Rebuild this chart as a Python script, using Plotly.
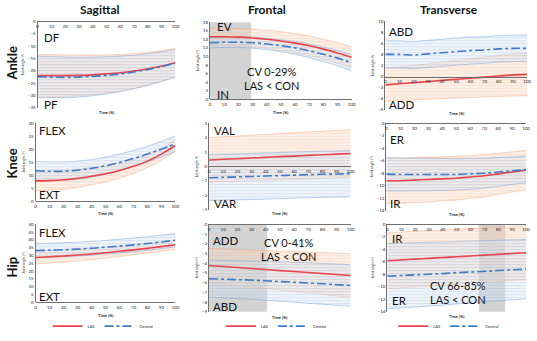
import plotly.graph_objects as go

W, H = 537, 341

TIME = [0, 10, 20, 30, 40, 50, 60, 70, 80, 90, 100]
X_TICKS = list(range(0, 101, 10))

# ---- Ankle sagittal
ANK_SAG_LAS_MEAN = [-22.0, -22.0, -22.0, -21.9, -21.7, -21.3, -20.8, -20.1, -19.2, -18.1, -16.8]
ANK_SAG_LAS_SD = [8.6, 8.5, 8.4, 8.2, 8.0, 7.7, 7.4, 7.0, 6.6, 6.2, 5.8]
ANK_SAG_CON_MEAN = [-22.5, -22.6, -22.7, -22.6, -22.3, -21.9, -21.3, -20.5, -19.5, -18.3, -17.0]
ANK_SAG_CON_SD = [8.4, 8.3, 8.2, 8.0, 7.8, 7.5, 7.2, 6.8, 6.4, 6.0, 5.6]
# ---- Ankle frontal
ANK_FRO_LAS_MEAN = [14.6, 14.6, 14.5, 14.3, 14.0, 13.6, 13.1, 12.5, 11.7, 10.8, 9.8]
ANK_FRO_LAS_SD = [2.0, 2.0, 2.0, 2.1, 2.1, 2.2, 2.2, 2.3, 2.3, 2.4, 2.4]
ANK_FRO_CON_MEAN = [13.2, 13.3, 13.3, 13.2, 12.9, 12.5, 12.0, 11.3, 10.5, 9.6, 8.5]
ANK_FRO_CON_SD = [1.2, 1.2, 1.2, 1.3, 1.3, 1.4, 1.5, 1.6, 1.7, 1.8, 1.9]
# ---- Ankle transverse
ANK_TRA_LAS_MEAN = [-1.5, -1.3, -1.1, -0.9, -0.7, -0.5, -0.3, -0.1, 0.1, 0.3, 0.4]
ANK_TRA_LAS_SD = [3.0, 3.0, 3.1, 3.2, 3.3, 3.4, 3.5, 3.6, 3.7, 3.8, 3.9]
ANK_TRA_CON_MEAN = [4.0, 4.0, 3.9, 4.1, 4.3, 4.5, 4.7, 4.8, 5.0, 5.1, 5.1]
ANK_TRA_CON_SD = [2.45, 2.45, 2.45, 2.45, 2.45, 2.45, 2.45, 2.4, 2.4, 2.4, 2.4]
# ---- Knee sagittal
KNE_SAG_LAS_MEAN = [7.8, 7.9, 8.2, 8.8, 9.6, 10.5, 11.8, 13.4, 15.4, 18.1, 21.4]
KNE_SAG_LAS_SD = [3.8, 3.7, 3.6, 3.5, 3.3, 3.1, 2.9, 2.7, 2.5, 2.3, 2.2]
KNE_SAG_CON_MEAN = [11.7, 11.5, 11.5, 11.9, 12.6, 13.6, 14.9, 16.4, 18.1, 20.0, 22.1]
KNE_SAG_CON_SD = [3.6, 3.6, 3.6, 3.5, 3.4, 3.3, 3.2, 3.1, 3.0, 3.0, 3.0]
# ---- Knee frontal
KNE_FRO_LAS_MEAN = [0.45, 0.5, 0.54, 0.59, 0.63, 0.68, 0.72, 0.77, 0.81, 0.86, 0.9]
KNE_FRO_LAS_SD = [1.55, 1.56, 1.57, 1.58, 1.59, 1.6, 1.61, 1.62, 1.63, 1.64, 1.65]
KNE_FRO_CON_MEAN = [-0.78, -0.75, -0.72, -0.69, -0.66, -0.63, -0.6, -0.57, -0.54, -0.52, -0.5]
KNE_FRO_CON_SD = [1.6, 1.6, 1.6, 1.6, 1.6, 1.6, 1.6, 1.6, 1.6, 1.6, 1.6]
# ---- Knee transverse
KNE_TRA_LAS_MEAN = [-9.2, -9.2, -9.1, -9.0, -8.9, -8.8, -8.6, -8.4, -8.1, -7.8, -7.5]
KNE_TRA_LAS_SD = [3.6, 3.6, 3.6, 3.6, 3.5, 3.5, 3.4, 3.4, 3.3, 3.2, 3.2]
KNE_TRA_CON_MEAN = [-8.15, -8.2, -8.2, -8.2, -8.2, -8.2, -8.1, -8.0, -7.8, -7.6, -7.4]
KNE_TRA_CON_SD = [2.65, 2.65, 2.6, 2.6, 2.55, 2.5, 2.45, 2.4, 2.3, 2.2, 2.15]
# ---- Hip sagittal
HIP_SAG_LAS_MEAN = [28.6, 29.1, 29.6, 30.2, 30.9, 31.7, 32.6, 33.5, 34.5, 35.6, 36.8]
HIP_SAG_LAS_SD = [4.1, 4.0, 3.9, 3.7, 3.6, 3.4, 3.3, 3.1, 3.0, 2.9, 2.8]
HIP_SAG_CON_MEAN = [33.1, 33.3, 33.6, 34.0, 34.6, 35.2, 35.9, 36.7, 37.6, 38.6, 39.7]
HIP_SAG_CON_SD = [4.5, 4.5, 4.5, 4.5, 4.5, 4.4, 4.4, 4.4, 4.4, 4.3, 4.3]
# ---- Hip frontal
HIP_FRO_LAS_MEAN = [-4.25, -4.35, -4.45, -4.56, -4.66, -4.77, -4.87, -4.97, -5.07, -5.18, -5.28]
HIP_FRO_LAS_SD = [1.75, 1.8, 1.85, 1.9, 1.95, 2.0, 2.05, 2.1, 2.15, 2.2, 2.25]
HIP_FRO_CON_MEAN = [-5.6, -5.65, -5.7, -5.75, -5.82, -5.9, -5.97, -6.05, -6.13, -6.22, -6.3]
HIP_FRO_CON_SD = [1.9, 1.92, 1.95, 1.97, 2.0, 2.02, 2.05, 2.08, 2.1, 2.12, 2.15]
# ---- Hip transverse
HIP_TRA_LAS_MEAN = [-5.85, -5.72, -5.59, -5.46, -5.33, -5.2, -5.08, -4.95, -4.82, -4.69, -4.56]
HIP_TRA_LAS_SD = [4.5, 4.48, 4.46, 4.44, 4.42, 4.4, 4.38, 4.36, 4.34, 4.32, 4.3]
HIP_TRA_CON_MEAN = [-8.3, -8.2, -8.1, -8.0, -7.9, -7.75, -7.65, -7.55, -7.4, -7.3, -7.2]
HIP_TRA_CON_SD = [5.2, 5.2, 5.15, 5.1, 5.05, 5.0, 4.95, 4.9, 4.85, 4.8, 4.75]

# significant (CV) windows, % of time
CV_WINDOWS = {"ank_fro": (0, 29), "hip_fro": (0, 41), "hip_tra": (66, 85)}
CV_LABELS = {"ank_fro": "CV 0-29%", "hip_fro": "CV 0-41%", "hip_tra": "CV 66-85%"}

COL_TITLES = ["Sagittal", "Frontal", "Transverse"]
ROW_TITLES = ["Ankle", "Knee", "Hip"]

# layout of each panel in pixels: box = xL, xR, yTop, yBottom;
# lab = (x, y of upper label, y of lower label); tl = y of "Time (%)"; cvp = centre of CV text
PANELS = [
    dict(key="ank_sag", d=(ANK_SAG_LAS_MEAN, ANK_SAG_LAS_SD, ANK_SAG_CON_MEAN, ANK_SAG_CON_SD),
         box=(37, 176, 20, 110), yr=(-35, 0), dt=5, cross=0, top="DF", bot="PF",
         lab=(41, 37, 107), tl=115),
    dict(key="ank_fro", d=(ANK_FRO_LAS_MEAN, ANK_FRO_LAS_SD, ANK_FRO_CON_MEAN, ANK_FRO_CON_SD),
         box=(211, 354, 21, 101), yr=(0, 18), dt=2, cross=0, top="EV", bot="IN",
         lab=(216, 25, 96), tl=115, cvp=(273, 80)),
    dict(key="ank_tra", d=(ANK_TRA_LAS_MEAN, ANK_TRA_LAS_SD, ANK_TRA_CON_MEAN, ANK_TRA_CON_SD),
         box=(388, 531, 20, 112), yr=(-6, 10), dt=2, cross=0, top="ABD", bot="ADD",
         lab=(390, 31, 107), tl=116),
    dict(key="kne_sag", d=(KNE_SAG_LAS_MEAN, KNE_SAG_LAS_SD, KNE_SAG_CON_MEAN, KNE_SAG_CON_SD),
         box=(35, 176, 126, 207), yr=(0, 30), dt=5, cross=0, top="FLEX", bot="EXT",
         lab=(36, 134, 200), tl=220),
    dict(key="kne_fro", d=(KNE_FRO_LAS_MEAN, KNE_FRO_LAS_SD, KNE_FRO_CON_MEAN, KNE_FRO_CON_SD),
         box=(210, 353, 126, 216), yr=(-3, 3), dt=1, cross=0, top="VAL", bot="VAR",
         lab=(213, 134, 209), tl=220),
    dict(key="kne_tra", d=(KNE_TRA_LAS_MEAN, KNE_TRA_LAS_SD, KNE_TRA_CON_MEAN, KNE_TRA_CON_SD),
         box=(389, 530, 126, 217), yr=(-14, 0), dt=2, cross=0, top="ER", bot="IR",
         lab=(391, 143, 210), tl=221),
    dict(key="hip_sag", d=(HIP_SAG_LAS_MEAN, HIP_SAG_LAS_SD, HIP_SAG_CON_MEAN, HIP_SAG_CON_SD),
         box=(35, 176, 231, 312), yr=(0, 50), dt=5, cross=0, top="FLEX", bot="EXT",
         lab=(36, 240, 306), tl=326),
    dict(key="hip_fro", d=(HIP_FRO_LAS_MEAN, HIP_FRO_LAS_SD, HIP_FRO_CON_MEAN, HIP_FRO_CON_SD),
         box=(210, 353, 231, 322), yr=(-9, 0), dt=1, cross=0, top="ADD", bot="ABD",
         lab=(212, 248, 317), tl=328, cvp=(290, 257)),
    dict(key="hip_tra", d=(HIP_TRA_LAS_MEAN, HIP_TRA_LAS_SD, HIP_TRA_CON_MEAN, HIP_TRA_CON_SD),
         box=(390, 530, 231, 322), yr=(-14, 0), dt=2, cross=0, top="IR", bot="ER",
         lab=(393, 246, 310), tl=327, cvp=(461, 302)),
]

LAS_COLOR = "#e8434b"
CON_COLOR = "#3d7ccc"
LAS_BAND_LINE = "rgba(242,165,120,0.5)"
CON_BAND_LINE = "rgba(110,155,210,0.5)"
LAS_BAND_BG = "rgba(250,215,190,0.4)"
CON_BAND_BG = "rgba(215,228,243,0.4)"
AXIS_COLOR = "#6f6f6f"
TXT = "#262626"
LABEL = "#111111"
FONT = "Lato"
BIG = 11.5

fig = go.Figure()
layout = dict(width=W, height=H, margin=dict(l=0, r=0, t=0, b=0),
              paper_bgcolor="white", plot_bgcolor="rgba(0,0,0,0)",
              showlegend=True, font=dict(family=FONT, color=TXT))
annotations = []
shapes = []

def px2fx(px):
    return px / W

def px2fy(py):
    return 1 - py / H

legend_names = {6: "legend", 7: "legend2", 8: "legend3"}

for i, p in enumerate(PANELS):
    n = "" if i == 0 else str(i + 1)
    xa, ya = "x" + n, "y" + n
    xL, xR, yT, yB = p["box"]
    y0, y1 = p["yr"]
    las_m, las_s, con_m, con_s = p["d"]

    def band(m, s, lc, bg, name):
        lo = [a - b for a, b in zip(m, s)]
        hi = [a + b for a, b in zip(m, s)]
        fig.add_trace(go.Scatter(x=TIME, y=lo, xaxis=xa, yaxis=ya, mode="lines",
                                 line=dict(color=lc, width=0.9, shape="spline"),
                                 showlegend=False, hoverinfo="skip", name=name + " -SD"))
        fig.add_trace(go.Scatter(x=TIME, y=hi, xaxis=xa, yaxis=ya, mode="lines",
                                 line=dict(color=lc, width=0.9, shape="spline"),
                                 fill="tonexty", fillcolor=bg,
                                 fillpattern=dict(shape="-", fgcolor=lc, bgcolor=bg,
                                                  size=3, solidity=0.25),
                                 showlegend=False, hoverinfo="skip", name=name + " +SD"))

    band(las_m, las_s, LAS_BAND_LINE, LAS_BAND_BG, "LAS")
    band(con_m, con_s, CON_BAND_LINE, CON_BAND_BG, "Control")

    leg = legend_names.get(i)
    fig.add_trace(go.Scatter(x=TIME, y=las_m, xaxis=xa, yaxis=ya, mode="lines", name="LAS",
                             line=dict(color=LAS_COLOR, width=1.6, shape="spline"),
                             showlegend=leg is not None, legend=leg or "legend"))
    fig.add_trace(go.Scatter(x=TIME, y=con_m, xaxis=xa, yaxis=ya, mode="lines", name="Control",
                             line=dict(color=CON_COLOR, width=1.6, dash="dashdot", shape="spline"),
                             showlegend=leg is not None, legend=leg or "legend"))

    cross_px = yT + (y1 - p["cross"]) / (y1 - y0) * (yB - yT)
    layout["xaxis" + n] = dict(domain=[px2fx(xL), px2fx(xR)], range=[0, 100], anchor="free",
                               position=px2fy(cross_px), side="bottom",
                               tickvals=X_TICKS, showgrid=False, zeroline=False,
                               showline=True, linecolor=AXIS_COLOR, linewidth=1,
                               ticks="", ticklen=0,
                               tickfont=dict(size=4.5, color=TXT), fixedrange=True)
    layout["yaxis" + n] = dict(domain=[px2fy(yB), px2fy(yT)], range=[y0, y1], anchor=xa,
                               dtick=p["dt"], tick0=0, showgrid=False, zeroline=False,
                               showline=True, linecolor=AXIS_COLOR, linewidth=1.2,
                               ticks="", tickfont=dict(size=4.5, color=TXT),
                               title=dict(text="Joint angle (°)", font=dict(size=3.6, color=TXT),
                                          standoff=3),
                               fixedrange=True)

    lx, ly_top, ly_bot = p["lab"]
    annotations.append(dict(x=px2fx(lx), y=px2fy(ly_top), xref="paper", yref="paper",
                            text=p["top"], showarrow=False, xanchor="left", yanchor="middle",
                            font=dict(size=BIG, color=LABEL, family=FONT)))
    annotations.append(dict(x=px2fx(lx), y=px2fy(ly_bot), xref="paper", yref="paper",
                            text=p["bot"], showarrow=False, xanchor="left", yanchor="middle",
                            font=dict(size=BIG, color=LABEL, family=FONT)))
    annotations.append(dict(x=px2fx((xL + xR) / 2), y=px2fy(p["tl"]), xref="paper", yref="paper",
                            text="<b>Time (%)</b>", showarrow=False, xanchor="center",
                            yanchor="middle", font=dict(size=4, color=TXT)))

    if p["key"] in CV_WINDOWS:
        a, b = CV_WINDOWS[p["key"]]
        shapes.append(dict(type="rect", xref=xa, yref=ya + " domain", x0=a, x1=b, y0=0, y1=1,
                           fillcolor="rgba(150,150,150,0.42)", line=dict(width=0), layer="below"))
        cx, cy = p["cvp"]
        annotations.append(dict(x=px2fx(cx), y=px2fy(cy), xref="paper", yref="paper",
                                text=CV_LABELS[p["key"]] + "<br>LAS &lt; CON",
                                showarrow=False, xanchor="center", yanchor="middle",
                                font=dict(size=11, color=LABEL, family=FONT)))

for x, t in zip([100, 269, 452], COL_TITLES):
    annotations.append(dict(x=px2fx(x), y=px2fy(8), xref="paper", yref="paper",
                            text="<b>" + t + "</b>", showarrow=False,
                            xanchor="center", yanchor="middle",
                            font=dict(size=12, color=LABEL, family=FONT)))
for y, t in zip([63, 168, 275], ROW_TITLES):
    annotations.append(dict(x=px2fx(11), y=px2fy(y), xref="paper", yref="paper",
                            text="<b>" + t + "</b>", showarrow=False, textangle=-90,
                            xanchor="center", yanchor="middle",
                            font=dict(size=13, color=LABEL, family=FONT)))

leg_common = dict(orientation="h", xanchor="center", yanchor="middle", traceorder="normal",
                  font=dict(size=4, color=TXT), bgcolor="rgba(0,0,0,0)",
                  itemwidth=30, tracegroupgap=0, itemclick=False, itemdoubleclick=False)
layout["legend"] = dict(leg_common, x=px2fx(103), y=px2fy(337))
layout["legend2"] = dict(leg_common, x=px2fx(278), y=px2fy(337))
layout["legend3"] = dict(leg_common, x=px2fx(452), y=px2fy(337))

layout["annotations"] = annotations
layout["shapes"] = shapes
fig.update_layout(**layout)

fig.write_html("out.html", config=dict(displayModeBar=False))
